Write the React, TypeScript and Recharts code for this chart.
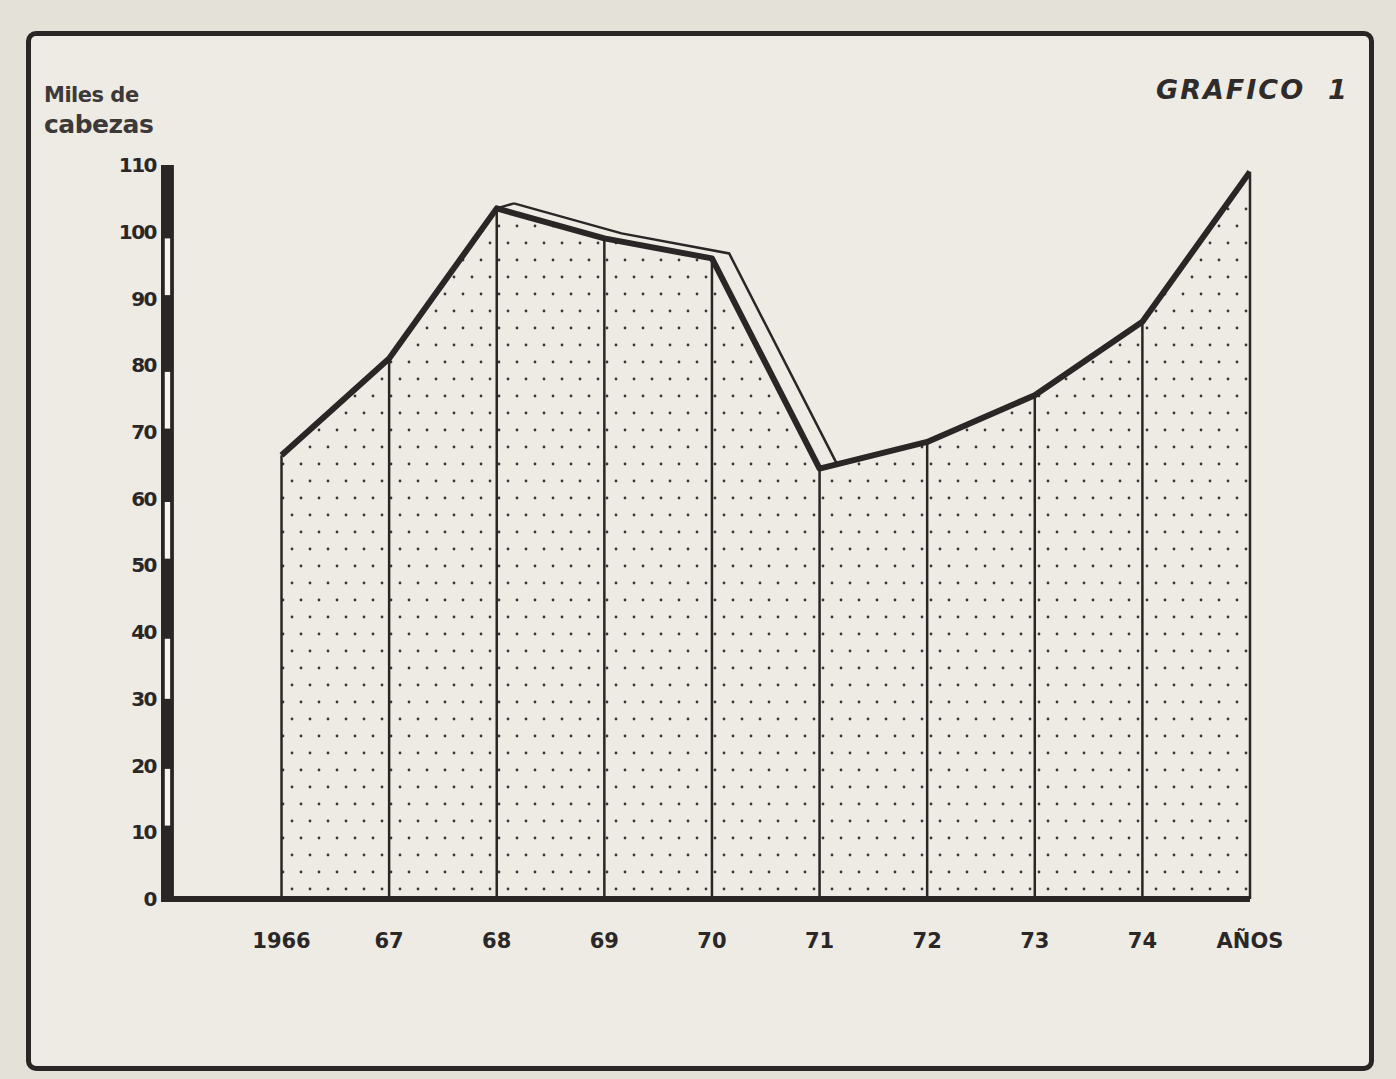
import { Area, ComposedChart, Line, ReferenceArea, ReferenceLine, XAxis, YAxis } from "recharts"

// Miles de cabezas por año
const years = [1966, 1967, 1968, 1969, 1970, 1971, 1972, 1973, 1974, 1975]
const tickLabels = ["1966", "67", "68", "69", "70", "71", "72", "73", "74", "AÑOS"]
const heads = [66.5, 81, 103.5, 99, 96, 64.5, 68.5, 75.5, 86.5, 109]
const ribbonYears = [1968, 1969, 1970, 1971]
const yTicks = [0, 10, 20, 30, 40, 50, 60, 70, 80, 90, 100, 110]
const scaleGaps = [
  [11, 19.5],
  [30, 39],
  [51, 59.5],
  [70.5, 79],
  [90.5, 99],
]

const ink = "#2a2626"
const paper = "#eeebe4"
const font = "'DejaVu Sans', sans-serif"

const data = years.map((year, i) => ({
  year,
  value: heads[i],
  ribbon: ribbonYears.includes(year) ? heads[i] : null,
}))

// the y scale bar sits just left of the first year
const barLeft = 1964.88
const xDomain = [barLeft, 1975]
// shifted copies of the axes give the raised "ribbon" edge of the 1968-71 section
const shiftX = 0.16
const shiftY = 0.75
const ribbonStart = data.find((d) => d.ribbon !== null)!

export default function App() {
  return (
    <div
      style={{
        position: "absolute",
        left: 0,
        top: 0,
        width: 1396,
        height: 1079,
        background: "#e4e1d9",
        overflow: "hidden",
        fontFamily: font,
      }}
    >
      <div
        style={{
          position: "absolute",
          left: 26,
          top: 31,
          width: 1338,
          height: 1030,
          border: `5px solid ${ink}`,
          borderRadius: 10,
          background: paper,
        }}
      />
      <div style={{ position: "absolute", left: 44, top: 80, color: "#3d3939", fontSize: 21, fontWeight: 600, lineHeight: "30px", letterSpacing: -0.5 }}>
        Miles de
        <br />
        <span style={{ fontSize: 25 }}>cabezas</span>
      </div>
      <div
        style={{
          position: "absolute",
          left: 1156,
          top: 74,
          color: "#2f2b2b",
          fontSize: 27,
          fontWeight: 600,
          fontStyle: "italic",
          letterSpacing: 2,
          whiteSpace: "pre",
        }}
      >
        GRAFICO  1
      </div>
      <div style={{ position: "absolute", left: 0, top: 0 }}>
        <ComposedChart width={1396} height={1079} data={data} margin={{ top: 165, right: 146, bottom: 120, left: 101 }}>
          <defs>
            <pattern id="dots" width="18" height="34" patternUnits="userSpaceOnUse">
              <circle cx="4" cy="5" r="1.4" fill="#3b3636" />
              <circle cx="13" cy="22" r="1.4" fill="#3b3636" />
            </pattern>
          </defs>
          <XAxis
            dataKey="year"
            type="number"
            domain={xDomain}
            allowDataOverflow
            ticks={years}
            interval={0}
            tickFormatter={(v) => tickLabels[years.indexOf(v)] ?? ""}
            tickLine={false}
            tickSize={0}
            tickMargin={34}
            height={60}
            axisLine={{ stroke: ink, strokeWidth: 6 }}
            tick={{ fill: "#2b2727", fontSize: 21, fontWeight: 700, fontFamily: font }}
          />
          <YAxis
            type="number"
            domain={[0, 110]}
            ticks={yTicks}
            interval={0}
            allowDataOverflow
            width={60}
            axisLine={false}
            tickLine={false}
            tickSize={0}
            tickMargin={5}
            tick={{ fill: "#2b2727", fontSize: 20, fontWeight: 700, fontFamily: font, letterSpacing: -1.5 }}
          />
          <XAxis
            xAxisId="shift"
            dataKey="year"
            type="number"
            domain={[xDomain[0] - shiftX, xDomain[1] - shiftX]}
            allowDataOverflow
            hide
          />
          <YAxis yAxisId="shift" type="number" domain={[-shiftY, 110 - shiftY]} allowDataOverflow hide />

          <ReferenceArea x1={barLeft} x2={1965} y1={0} y2={110} fill={ink} fillOpacity={1} stroke="none" />
          {scaleGaps.map(([lo, hi]) => (
            <ReferenceArea
              key={lo}
              x1={barLeft + 0.035}
              x2={barLeft + 0.085}
              y1={lo}
              y2={hi}
              fill="#f7f5ef"
              fillOpacity={1}
              stroke="none"
            />
          ))}

          <Area
            type="linear"
            dataKey="value"
            baseValue={0}
            stroke={ink}
            strokeWidth={6}
            strokeLinejoin="round"
            fill="url(#dots)"
            fillOpacity={1}
            dot={false}
            activeDot={false}
            isAnimationActive={false}
          />
          <Line
            xAxisId="shift"
            yAxisId="shift"
            type="linear"
            dataKey="ribbon"
            stroke={ink}
            strokeWidth={2.5}
            dot={false}
            activeDot={false}
            connectNulls={false}
            isAnimationActive={false}
          />
          <ReferenceLine
            xAxisId="shift"
            yAxisId="shift"
            segment={[
              { x: ribbonStart.year - shiftX, y: ribbonStart.value - shiftY },
              { x: ribbonStart.year, y: ribbonStart.value },
            ]}
            stroke={ink}
            strokeWidth={2.5}
          />
          {data.map((d) => (
            <ReferenceLine
              key={d.year}
              segment={[
                { x: d.year, y: 0 },
                { x: d.year, y: d.value },
              ]}
              stroke={ink}
              strokeWidth={2.5}
            />
          ))}
        </ComposedChart>
      </div>
    </div>
  )
}
